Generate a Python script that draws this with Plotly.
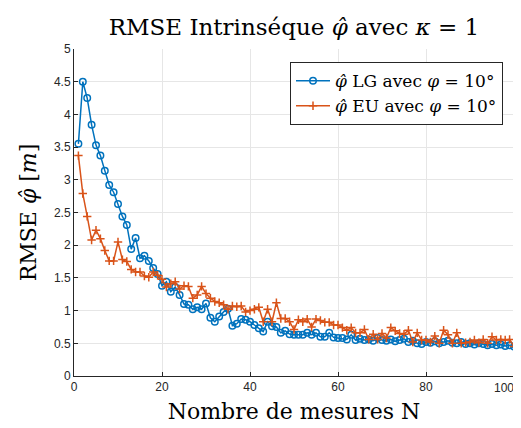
import plotly.graph_objects as go

N = list(range(1, 101))
rmse_lg = [3.55, 4.50, 4.25, 3.84, 3.53, 3.37, 3.14, 2.92, 2.81, 2.63,
           2.44, 2.31, 1.94, 2.11, 1.80, 1.84, 1.76, 1.65, 1.56, 1.38,
           1.44, 1.29, 1.36, 1.24, 1.10, 1.09, 1.02, 1.05, 1.02, 1.11,
           0.89, 0.83, 0.91, 0.98, 1.03, 0.77, 0.80, 0.87, 0.86, 0.83,
           0.78, 0.73, 0.68, 0.83, 0.76, 0.75, 0.66, 0.69, 0.64, 0.63,
           0.63, 0.63, 0.66, 0.63, 0.66, 0.60, 0.60, 0.66, 0.59, 0.58,
           0.58, 0.56, 0.63, 0.55, 0.57, 0.55, 0.56, 0.54, 0.58, 0.55,
           0.54, 0.56, 0.53, 0.55, 0.57, 0.52, 0.54, 0.50, 0.49, 0.52,
           0.51, 0.53, 0.50, 0.52, 0.54, 0.51, 0.50, 0.52, 0.49, 0.50,
           0.48, 0.50, 0.49, 0.47, 0.49, 0.47, 0.48, 0.46, 0.47, 0.45]
rmse_eu = [3.37, 2.79, 2.44, 2.08, 2.23, 2.10, 1.92, 1.76, 1.76, 2.05,
           1.78, 1.75, 1.63, 1.59, 1.59, 1.53, 1.51, 1.59, 1.54, 1.48,
           1.36, 1.41, 1.44, 1.33, 1.38, 1.37, 1.19, 1.24, 1.37, 1.26,
           1.19, 1.14, 1.12, 1.09, 1.02, 1.07, 1.06, 1.07, 0.98, 1.00,
           1.02, 1.05, 0.83, 1.02, 0.83, 1.12, 0.88, 0.88, 0.83, 0.71,
           0.86, 0.83, 0.87, 0.75, 0.87, 0.85, 0.82, 0.82, 0.78, 0.78,
           0.74, 0.70, 0.74, 0.66, 0.66, 0.71, 0.56, 0.64, 0.56, 0.65,
           0.58, 0.74, 0.69, 0.65, 0.64, 0.70, 0.52, 0.66, 0.55, 0.55,
           0.52, 0.61, 0.50, 0.70, 0.63, 0.50, 0.66, 0.50, 0.51, 0.52,
           0.55, 0.51, 0.56, 0.50, 0.60, 0.55, 0.56, 0.55, 0.56, 0.45]

x_ticks = [0, 20, 40, 60, 80, 100]
x_ticklabels = ["0", "20", "40", "60", "80", "100"]
y_ticks = [0, 0.5, 1, 1.5, 2, 2.5, 3, 3.5, 4, 4.5, 5]
y_ticklabels = ["0", "0.5", "1", "1.5", "2", "2.5", "3", "3.5", "4", "4.5", "5"]

BLUE = "#0072BD"
ORANGE = "#D95319"
SERIF = "DejaVu Serif, serif"
SANS = "Liberation Sans, Arial, sans-serif"
AX = "#262626"
PHIHAT = "<i>φ\u0302</i>"

fig = go.Figure()
fig.add_trace(go.Scatter(
    x=N, y=rmse_lg, mode="lines+markers",
    name=PHIHAT + " LG avec <i>φ</i> = 10°",
    line=dict(color=BLUE, width=1.5),
    marker=dict(symbol="circle-open", size=6.5, color=BLUE, line=dict(width=1.5, color=BLUE)),
))
fig.add_trace(go.Scatter(
    x=N, y=rmse_eu, mode="lines+markers",
    name=PHIHAT + " EU avec <i>φ</i> = 10°",
    line=dict(color=ORANGE, width=1.5),
    marker=dict(symbol="cross-thin", size=6, color=ORANGE, line=dict(width=1.5, color=ORANGE)),
))

axis_common = dict(
    showgrid=True, gridcolor="#e6e6e6", gridwidth=1,
    showline=True, linecolor=AX, linewidth=1,
    ticks="inside", ticklen=4, tickcolor=AX,
    tickfont=dict(family=SANS, size=12, color=AX),
    zeroline=False, mirror=False, automargin=False,
    ticklabeloverflow="allow",
)

# last x tick label drawn as an annotation nudged inside the page so it is not clipped
fig.add_annotation(
    x=x_ticks[-1], y=0, xref="x", yref="y",
    text=x_ticklabels[-1], showarrow=False,
    xanchor="right", yanchor="top", xshift=2, yshift=-3,
    font=dict(family=SANS, size=12, color=AX),
)

# page body has an 8px margin; figure sized so the plot sits where the reference has it
fig.update_layout(
    width=513, height=420,
    margin=dict(l=66, r=7, t=41, b=52, autoexpand=False),
    paper_bgcolor="white", plot_bgcolor="white",
    title=dict(
        text="RMSE Intrinséque " + PHIHAT + " avec <i>κ</i> = 1",
        x=0.5575, xanchor="center", y=0.955, yanchor="middle",
        font=dict(family=SERIF, size=23, color="black"),
        automargin=False,
    ),
    xaxis=dict(range=[0, 100], tickvals=x_ticks,
               ticktext=x_ticklabels[:-1] + [""],
               title=dict(text="Nombre de mesures N", standoff=10,
                          font=dict(family=SERIF, size=22, color="black")),
               **axis_common),
    yaxis=dict(range=[0, 5], tickvals=y_ticks, ticktext=y_ticklabels,
               title=dict(text="RMSE " + PHIHAT + " [<i>m</i>]", standoff=11,
                          font=dict(family=SERIF, size=22, color="black")),
               **axis_common),
    legend=dict(
        x=0.975, xanchor="right", y=0.96, yanchor="top",
        bgcolor="white", bordercolor=AX, borderwidth=1,
        font=dict(family=SERIF, size=17, color="black"),
        tracegroupgap=0, itemwidth=34,
    ),
    showlegend=True,
)

fig.write_html("out.html")
